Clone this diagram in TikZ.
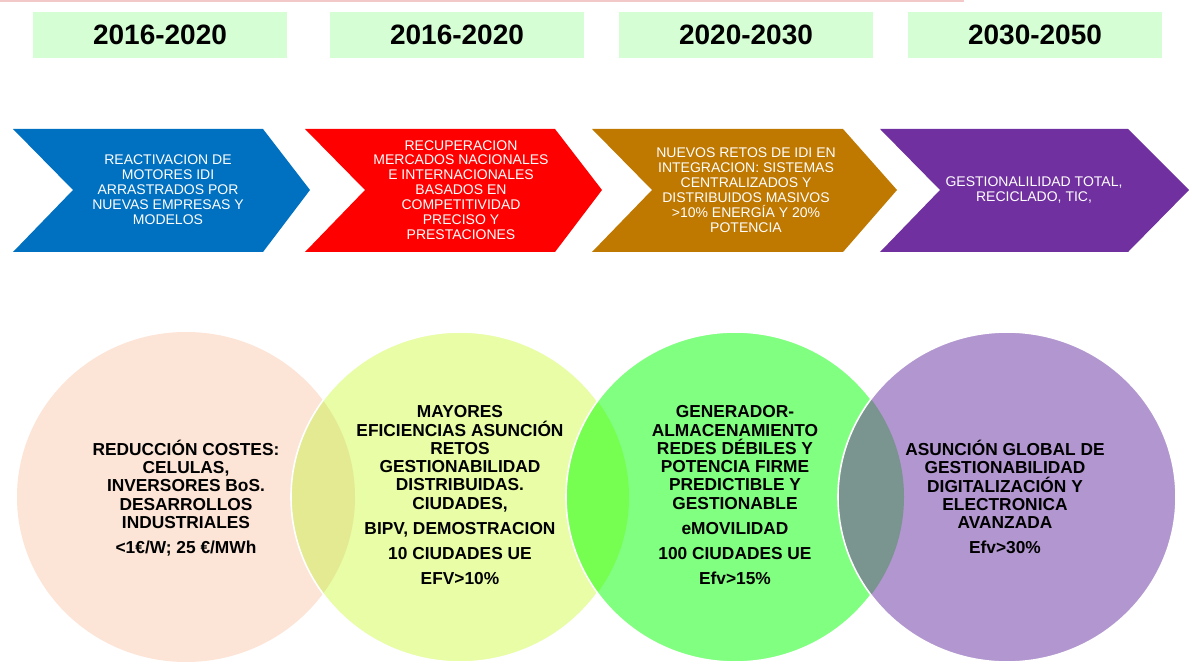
\documentclass[tikz,border=0pt]{standalone}
\usepackage{fontspec}
\setmainfont{Liberation Sans}
\definecolor{topline}{RGB}{242,200,200}
\definecolor{mint}{RGB}{213,254,213}
\definecolor{chevblue}{RGB}{0,112,192}
\definecolor{chevred}{RGB}{255,0,0}
\definecolor{chevbrown}{RGB}{191,120,0}
\definecolor{chevpurple}{RGB}{112,48,160}
\definecolor{peach}{RGB}{252,228,214}
\definecolor{lime}{RGB}{232,253,166}
\definecolor{lightgreen}{RGB}{128,255,128}
\definecolor{lilac}{RGB}{178,150,208}
\definecolor{peachlime}{RGB}{228,234,146}
\definecolor{limegreen}{RGB}{118,255,80}
\definecolor{greenlilac}{RGB}{122,148,143}

\begin{document}
\begin{tikzpicture}[x=0.75pt, y=-0.75pt,
	yearbox/.style={fill=mint, minimum width=190.5pt, minimum height=34.5pt, inner sep=0pt, font=\fontsize{21}{21}\selectfont\bfseries},
	chevtext/.style={text=white, align=center, inner sep=0pt, font=\fontsize{10.5}{11.2}\selectfont},
	circtext/.style={align=center, inner sep=0pt, font=\fontsize{13}{13.7}\selectfont\bfseries},
	bub/.style={x radius=126.75pt, y radius=123.75pt},
	rim/.style={draw=white, line width=1.2pt}]

	\useasboundingbox (0,0) rectangle (1192,666);
	\draw[topline, line width=1.5pt] (0,1) -- (964,1);

	% years
	\node[yearbox] (y1) at (160,35) {2016-2020};
	\node[yearbox] (y2) at (457,35) {2016-2020};
	\node[yearbox] (y3) at (746,35) {2020-2030};
	\node[yearbox] (y4) at (1035,35) {2030-2050};

	% chevrons
	\fill[chevblue] (13,129) -- (263,129) -- (310,190) -- (263,252) -- (13,252) -- (73,190) -- cycle;
	\node[chevtext] (a1) at (168,190) {REACTIVACION DE\\MOTORES IDI\\ARRASTRADOS POR\\NUEVAS EMPRESAS Y\\MODELOS};

	\fill[chevred] (305,129) -- (555,129) -- (602,190) -- (555,252) -- (305,252) -- (365,190) -- cycle;
	\node[chevtext] (a2) at (461,190) {RECUPERACION\\MERCADOS NACIONALES\\E INTERNACIONALES\\BASADOS EN\\COMPETITIVIDAD\\PRECISO Y\\PRESTACIONES};

	\fill[chevbrown] (592,129) -- (843,129) -- (897,190) -- (843,252) -- (592,252) -- (652,190) -- cycle;
	\node[chevtext] (a3) at (746,190) {NUEVOS RETOS DE IDI EN\\INTEGRACION: SISTEMAS\\CENTRALIZADOS Y\\DISTRIBUIDOS MASIVOS\\>10\% ENERGÍA Y 20\%\\POTENCIA};

	\fill[chevpurple] (880,129) -- (1128,129) -- (1189,190) -- (1128,252) -- (880,252) -- (940,190) -- cycle;
	\node[chevtext] (a4) at (1034,190) {GESTIONALILIDAD TOTAL,\\RECICLADO, TIC,};

	% circles
	\fill[peach] (186,497) ellipse [bub];

	\fill[lime] (460,497) ellipse [bub];
	\begin{scope}
		\clip (186,497) ellipse [bub];
		\fill[peachlime] (460,497) ellipse [bub];
	\end{scope}
	\draw[rim] (460,497) ellipse [bub];

	\fill[lightgreen] (735,497) ellipse [bub];
	\begin{scope}
		\clip (460,497) ellipse [bub];
		\fill[limegreen] (735,497) ellipse [bub];
	\end{scope}
	\draw[rim] (735,497) ellipse [bub];

	\fill[lilac] (1007,497) ellipse [bub];
	\begin{scope}
		\clip (735,497) ellipse [bub];
		\fill[greenlilac] (1007,497) ellipse [bub];
	\end{scope}
	\draw[rim] (1007,497) ellipse [bub];

	\node[circtext] (c1) at (186,498) {REDUCCIÓN COSTES:\\CELULAS,\\INVERSORES BoS.\\DESARROLLOS\\INDUSTRIALES\\[5pt]<1€/W; 25 €/MWh};
	\node[circtext] (c2) at (460,495) {MAYORES\\EFICIENCIAS ASUNCIÓN\\RETOS\\GESTIONABILIDAD\\DISTRIBUIDAS.\\CIUDADES,\\[5pt]BIPV, DEMOSTRACION\\[5pt]10 CIUDADES UE\\[5pt]EFV>10\%};
	\node[circtext] (c3) at (735,495) {GENERADOR-\\ALMACENAMIENTO\\REDES DÉBILES Y\\POTENCIA FIRME\\PREDICTIBLE Y\\GESTIONABLE\\[5pt]eMOVILIDAD\\[5pt]100 CIUDADES UE\\[5pt]Efv>15\%};
	\node[circtext] (c4) at (1005,497) {ASUNCIÓN GLOBAL DE\\GESTIONABILIDAD\\DIGITALIZACIÓN Y\\ELECTRONICA\\AVANZADA\\[5pt]Efv>30\%};

\end{tikzpicture}
\end{document}
